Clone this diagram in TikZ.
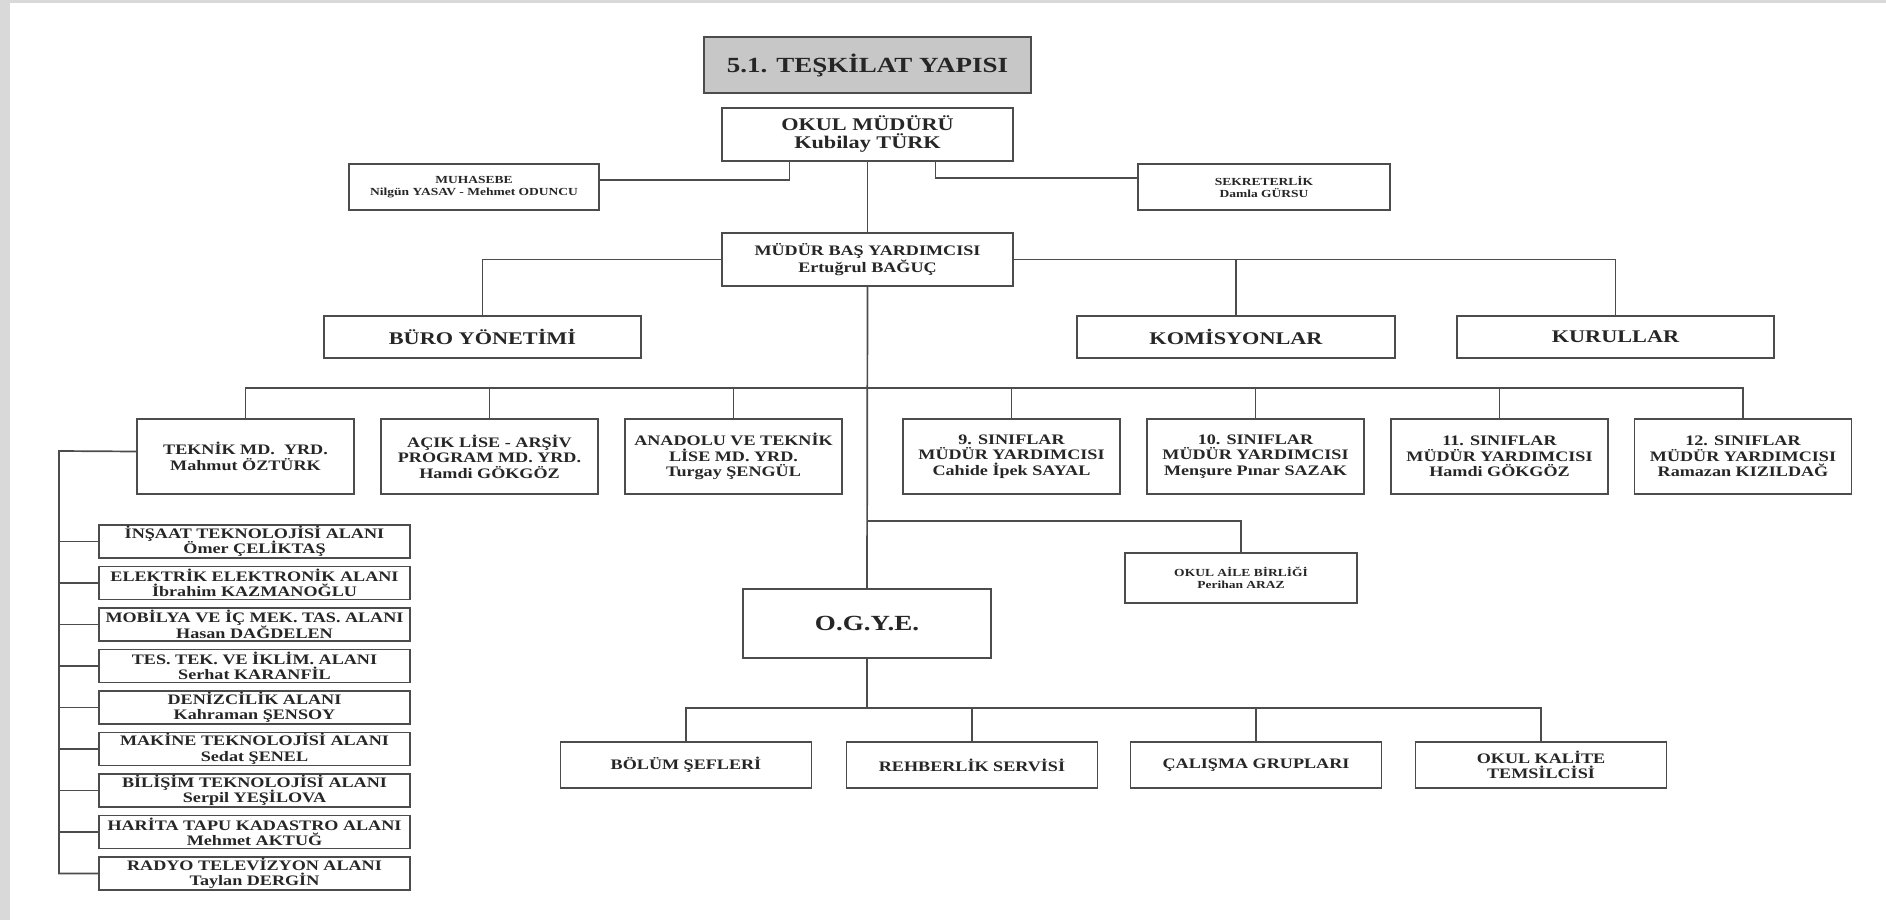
\documentclass[tikz,border=0pt]{standalone}
\usepackage{fontspec}
\setmainfont{Liberation Serif}[FakeStretch=1.25]

\begin{document}
\begin{tikzpicture}
    [x=1pt, y=-1pt,
     kutu/.style={rectangle, draw=black!70, line width=1.8pt, fill=white, align=center, inner sep=0pt, text=black!85},
     iri/.style={font=\bfseries\fontsize{21.6}{23}\selectfont},
     orta/.style={font=\bfseries\fontsize{17.8}{18}\selectfont},
     ufak/.style={font=\bfseries\fontsize{14.5}{15.5}\selectfont},
     minik/.style={font=\bfseries\fontsize{10.8}{11.5}\selectfont},
     hat/.style={draw=black!70, line width=1.7pt}]
    \useasboundingbox (0,0) rectangle (1886,920);
    \fill[black!15] (0,0) rectangle (10,920);
    \fill[black!15] (0,0) rectangle (1886,3);

    % ust kisim
    \node[kutu, iri, fill=black!22, minimum width=327, minimum height=56] (baslik) at (867.5,65) {5.1. TEŞKİLAT YAPISI};
    \node[kutu, orta, minimum width=291, minimum height=53] (mudur) at (867.5,134.5) {OKUL MÜDÜRÜ\\Kubilay TÜRK};
    \node[kutu, minik, minimum width=250, minimum height=46] (muhasebe) at (474,187) {MUHASEBE\\Nilgün YASAV - Mehmet ODUNCU};
    \node[kutu, minik, minimum width=252, minimum height=46] (sekreter) at (1264,187) {SEKRETERLİK\\Damla GÜRSU};
    \node[kutu, ufak, minimum width=291, minimum height=53] (basyrd) at (867.5,259.5) {MÜDÜR BAŞ YARDIMCISI\\Ertuğrul BAĞUÇ};

    \node[kutu, orta, minimum width=317, minimum height=42] (buro) at (482.5,337) {BÜRO YÖNETİMİ};
    \node[kutu, orta, minimum width=318, minimum height=42] (komisyon) at (1236,337) {KOMİSYONLAR};
    \node[kutu, orta, minimum width=317, minimum height=42] (kurul) at (1615.5,337) {KURULLAR};

    \draw[hat] ([xshift=-78pt]mudur.south) |- ([yshift=7pt]muhasebe.east);
    \draw[hat] ([xshift=68pt]mudur.south) |- ([yshift=9pt]sekreter.west);
    \draw[hat] (mudur.south) -- (basyrd.north);
    \draw[hat] (basyrd.west) -| (buro.north);
    \draw[hat] (basyrd.east) -| (kurul.north);
    \draw[hat] (komisyon.north) |- (basyrd.east);

    % mudur yardimcilari
    \coordinate (yatay) at (867.5,388);
    \node[kutu, ufak, minimum width=217, minimum height=75] (yrd1) at (245.5,456.5) {TEKNİK MD.~~YRD.\\Mahmut ÖZTÜRK};
    \node[kutu, ufak, minimum width=217, minimum height=75] (yrd2) at (489.5,456.5) {AÇIK LİSE - ARŞİV\\PROGRAM MD. YRD.\\Hamdi GÖKGÖZ};
    \node[kutu, ufak, minimum width=217, minimum height=75] (yrd3) at (733.5,456.5) {ANADOLU VE TEKNİK\\LİSE MD. YRD.\\Turgay ŞENGÜL};
    \node[kutu, ufak, minimum width=217, minimum height=75] (yrd4) at (1011.5,456.5) {9. SINIFLAR\\MÜDÜR YARDIMCISI\\Cahide İpek SAYAL};
    \node[kutu, ufak, minimum width=217, minimum height=75] (yrd5) at (1255.5,456.5) {10. SINIFLAR\\MÜDÜR YARDIMCISI\\Menşure Pınar SAZAK};
    \node[kutu, ufak, minimum width=217, minimum height=75] (yrd6) at (1499.5,456.5) {11. SINIFLAR\\MÜDÜR YARDIMCISI\\Hamdi GÖKGÖZ};
    \node[kutu, ufak, minimum width=217, minimum height=75] (yrd7) at (1743,456.5) {12. SINIFLAR\\MÜDÜR YARDIMCISI\\Ramazan KIZILDAĞ};

    \draw[hat] (yrd1.north) |- (yatay) -| (yrd7.north);
    \draw[hat] (yrd2.north) -- (yrd2.north |- yatay);
    \draw[hat] (yrd3.north) -- (yrd3.north |- yatay);
    \draw[hat] (yrd4.north) -- (yrd4.north |- yatay);
    \draw[hat] (yrd5.north) -- (yrd5.north |- yatay);
    \draw[hat] (yrd6.north) -- (yrd6.north |- yatay);

    % alanlar
    \coordinate (omurga) at (59,451);
    \node[kutu, ufak, minimum width=311, minimum height=33] (alan1) at (254.5,541.5) {İNŞAAT TEKNOLOJİSİ ALANI\\Ömer ÇELİKTAŞ};
    \node[kutu, ufak, minimum width=311, minimum height=33] (alan2) at (254.5,583) {ELEKTRİK ELEKTRONİK ALANI\\İbrahim KAZMANOĞLU};
    \node[kutu, ufak, minimum width=311, minimum height=33] (alan3) at (254.5,624.5) {MOBİLYA VE İÇ MEK. TAS. ALANI\\Hasan DAĞDELEN};
    \node[kutu, ufak, minimum width=311, minimum height=33] (alan4) at (254.5,666) {TES. TEK. VE İKLİM. ALANI\\Serhat KARANFİL};
    \node[kutu, ufak, minimum width=311, minimum height=33] (alan5) at (254.5,707.5) {DENİZCİLİK ALANI\\Kahraman ŞENSOY};
    \node[kutu, ufak, minimum width=311, minimum height=33] (alan6) at (254.5,749) {MAKİNE TEKNOLOJİSİ ALANI\\Sedat ŞENEL};
    \node[kutu, ufak, minimum width=311, minimum height=33] (alan7) at (254.5,790.5) {BİLİŞİM TEKNOLOJİSİ ALANI\\Serpil YEŞİLOVA};
    \node[kutu, ufak, minimum width=311, minimum height=33] (alan8) at (254.5,832) {HARİTA TAPU KADASTRO ALANI\\Mehmet AKTUĞ};
    \node[kutu, ufak, minimum width=311, minimum height=33] (alan9) at (254.5,873.5) {RADYO TELEVİZYON ALANI\\Taylan DERGİN};

    \draw[hat] ([yshift=5pt]yrd1.west) -- (omurga) -- (omurga |- alan9.west) -- (alan9.west);
    \foreach \i in {1,...,8}
        \draw[hat] (alan\i.west) -- (alan\i.west -| omurga);

    % okul aile birligi ve ogye
    \coordinate (aileyatay) at (867.5,521);
    \node[kutu, minik, minimum width=232, minimum height=50] (aile) at (1241,578) {OKUL AİLE BİRLİĞİ\\Perihan ARAZ};
    \node[kutu, iri, minimum width=248, minimum height=69] (ogye) at (867,623.5) {O.G.Y.E.};
    \draw[hat] (basyrd.south) -- (ogye.north);
    \draw[hat] (aile.north) |- (aileyatay);

    \coordinate (altyatay) at (867,708);
    \node[kutu, ufak, minimum width=251, minimum height=46] (alt1) at (686,765) {BÖLÜM ŞEFLERİ};
    \node[kutu, ufak, minimum width=251, minimum height=46] (alt2) at (972,765) {REHBERLİK SERVİSİ};
    \node[kutu, ufak, minimum width=251, minimum height=46] (alt3) at (1256,765) {ÇALIŞMA GRUPLARI};
    \node[kutu, ufak, minimum width=251, minimum height=46] (alt4) at (1541,765) {OKUL KALİTE\\TEMSİLCİSİ};

    \draw[hat] (ogye.south) -- (altyatay);
    \draw[hat] (alt1.north) |- (altyatay) -| (alt4.north);
    \draw[hat] (alt2.north) -- (alt2.north |- altyatay);
    \draw[hat] (alt3.north) -- (alt3.north |- altyatay);

\end{tikzpicture}
\end{document}
